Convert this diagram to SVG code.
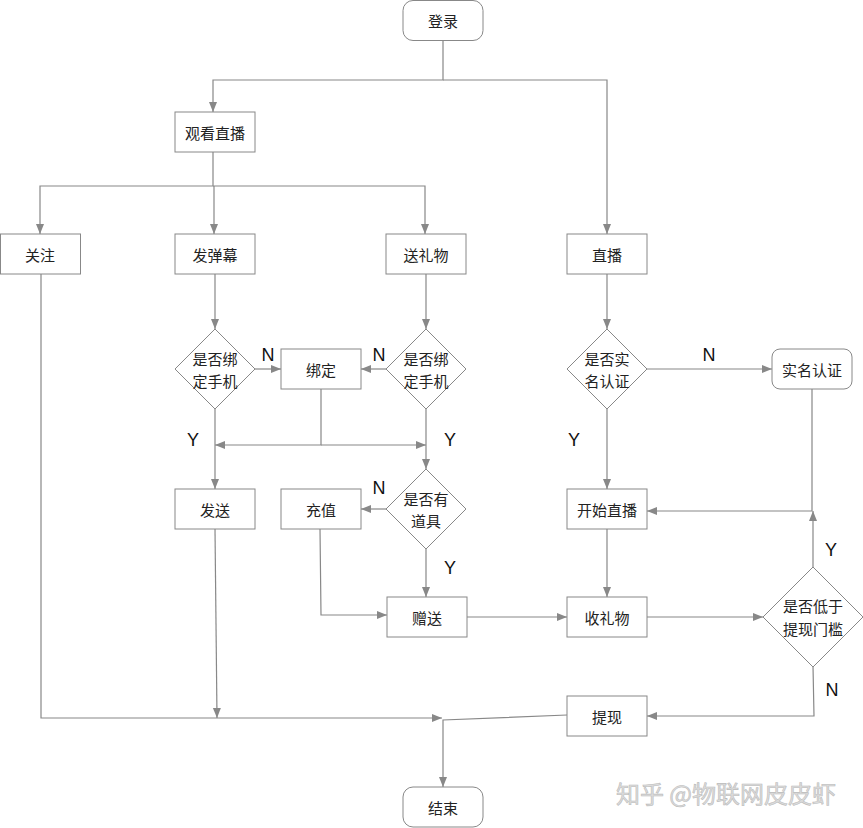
<svg xmlns="http://www.w3.org/2000/svg" width="863" height="828" viewBox="0 0 863 828">
<style>
.box{fill:#fff;stroke:#888;stroke-width:1}
.ln{fill:none;stroke:#888;stroke-width:1.2}
.t{font-family:"Noto Sans CJK SC","Liberation Sans",sans-serif;font-size:15px;fill:#222;text-anchor:middle;dominant-baseline:central}
.yn{font-family:"Liberation Sans",Arial,sans-serif;font-size:18px;fill:#111;text-anchor:middle;dominant-baseline:central}
.wm{font-family:"Noto Sans CJK SC",sans-serif;font-size:24px;fill:#ddd;stroke:#bbb;stroke-width:0.6;text-anchor:middle}
</style>
<defs>
<marker id="a" viewBox="0 0 10 10" refX="10" refY="5" markerWidth="10" markerHeight="10" markerUnits="userSpaceOnUse" orient="auto">
<path d="M0,1 L10,5 L0,9 Z" fill="#888"/>
</marker>
</defs>
<rect width="863" height="828" fill="#fff"/>
<g id="connectors">
<path class="ln" d="M443,40 V80 H213 V112" marker-end="url(#a)"/>
<path class="ln" d="M443,80 H607 V234" marker-end="url(#a)"/>
<path class="ln" d="M213,152 V186 H40 V234" marker-end="url(#a)"/>
<path class="ln" d="M213,186 H425 V234" marker-end="url(#a)"/>
<path class="ln" d="M214,186 V234" marker-end="url(#a)"/>
<path class="ln" d="M215,274 V329" marker-end="url(#a)"/>
<path class="ln" d="M426,274 V329" marker-end="url(#a)"/>
<path class="ln" d="M255,369 H281" marker-end="url(#a)"/>
<path class="ln" d="M386,369 H361" marker-end="url(#a)"/>
<path class="ln" d="M321,389 V445 H215" marker-end="url(#a)"/>
<path class="ln" d="M321,445 H426" marker-end="url(#a)"/>
<path class="ln" d="M215,409 V489" marker-end="url(#a)"/>
<path class="ln" d="M426,409 V469" marker-end="url(#a)"/>
<path class="ln" d="M386,509 H361" marker-end="url(#a)"/>
<path class="ln" d="M426,549 V597" marker-end="url(#a)"/>
<path class="ln" d="M320,529 L321,615 H387" marker-end="url(#a)"/>
<path class="ln" d="M466,617 H567" marker-end="url(#a)"/>
<path class="ln" d="M607,274 V329" marker-end="url(#a)"/>
<path class="ln" d="M647,369 H772" marker-end="url(#a)"/>
<path class="ln" d="M607,409 V489" marker-end="url(#a)"/>
<path class="ln" d="M812,389 V511 H647" marker-end="url(#a)"/>
<path class="ln" d="M813,567 V511" marker-end="url(#a)"/>
<path class="ln" d="M607,529 V597" marker-end="url(#a)"/>
<path class="ln" d="M647,617 H763" marker-end="url(#a)"/>
<path class="ln" d="M813,666 L814,716 H647" marker-end="url(#a)"/>
<path class="ln" d="M41,274 V718 H442" marker-end="url(#a)"/>
<path class="ln" d="M215,529 L217,718" marker-end="url(#a)"/>
<path class="ln" d="M567,715 L443,720 V787" marker-end="url(#a)"/>
</g>
<g id="n-login"><rect class="box" x="403" y="0.5" width="80" height="40" rx="10"/><text class="t" x="443" y="20">登录</text></g>
<g id="n-watch"><rect class="box" x="175" y="112" width="80" height="40"/><text class="t" x="215" y="132">观看直播</text></g>
<g id="n-follow"><rect class="box" x="0.5" y="234" width="80" height="40"/><text class="t" x="40" y="254">关注</text></g>
<g id="n-danmu"><rect class="box" x="175" y="234" width="80" height="40"/><text class="t" x="215" y="254">发弹幕</text></g>
<g id="n-gift"><rect class="box" x="386" y="234" width="80" height="40"/><text class="t" x="426" y="254">送礼物</text></g>
<g id="n-live"><rect class="box" x="567" y="234" width="80" height="40"/><text class="t" x="607" y="254">直播</text></g>
<g id="n-d1"><polygon class="box" points="215,329 255,369 215,409 175,369"/><text class="t" x="215" y="358">是否绑</text><text class="t" x="215" y="380">定手机</text></g>
<g id="n-bind"><rect class="box" x="281" y="349" width="80" height="40"/><text class="t" x="321" y="369">绑定</text></g>
<g id="n-d2"><polygon class="box" points="426,329 466,369 426,409 386,369"/><text class="t" x="426" y="358">是否绑</text><text class="t" x="426" y="380">定手机</text></g>
<g id="n-d3"><polygon class="box" points="426,469 466,509 426,549 386,509"/><text class="t" x="426" y="498">是否有</text><text class="t" x="426" y="520">道具</text></g>
<g id="n-send"><rect class="box" x="175" y="489" width="80" height="40"/><text class="t" x="215" y="509">发送</text></g>
<g id="n-recharge"><rect class="box" x="281" y="489" width="80" height="40"/><text class="t" x="321" y="509">充值</text></g>
<g id="n-give"><rect class="box" x="387" y="597" width="80" height="40"/><text class="t" x="427" y="617">赠送</text></g>
<g id="n-d4"><polygon class="box" points="607,329 647,369 607,409 567,369"/><text class="t" x="607" y="358">是否实</text><text class="t" x="607" y="380">名认证</text></g>
<g id="n-realname"><rect class="box" x="772" y="349" width="80" height="40" rx="8"/><text class="t" x="812" y="369">实名认证</text></g>
<g id="n-start"><rect class="box" x="567" y="489" width="80" height="40"/><text class="t" x="607" y="509">开始直播</text></g>
<g id="n-receive"><rect class="box" x="567" y="597" width="80" height="40"/><text class="t" x="607" y="617">收礼物</text></g>
<g id="n-d5"><polygon class="box" points="813,567 863,617 813,667 763,617"/><text class="t" x="813" y="605">是否低于</text><text class="t" x="813" y="628">提现门槛</text></g>
<g id="n-withdraw"><rect class="box" x="567" y="696" width="80" height="40"/><text class="t" x="607" y="716">提现</text></g>
<g id="n-end"><rect class="box" x="403" y="787" width="80" height="40" rx="10"/><text class="t" x="443" y="807">结束</text></g>
<g id="labels">
<text class="yn" x="268" y="355">N</text>
<text class="yn" x="379" y="355">N</text>
<text class="yn" x="193" y="440">Y</text>
<text class="yn" x="450" y="440">Y</text>
<text class="yn" x="379" y="488">N</text>
<text class="yn" x="450" y="568">Y</text>
<text class="yn" x="709" y="355">N</text>
<text class="yn" x="574" y="440">Y</text>
<text class="yn" x="831" y="550">Y</text>
<text class="yn" x="832" y="690">N</text>
</g>
<text class="wm" x="726" y="803">知乎 @物联网皮皮虾</text>
</svg>
